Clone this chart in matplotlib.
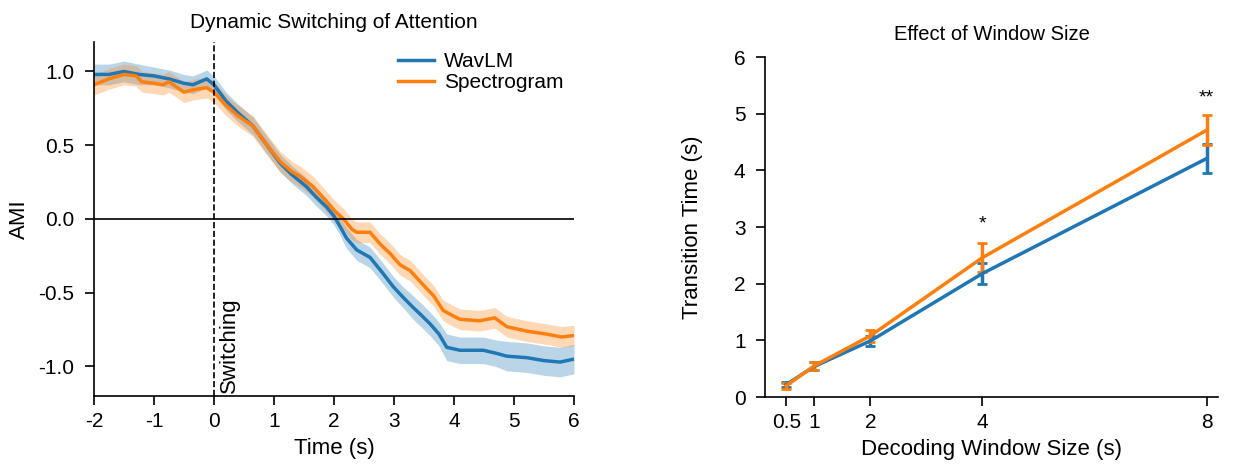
import numpy as np
import matplotlib.pyplot as plt

plt.rcParams['font.family'] = ['Liberation Sans', 'DejaVu Sans']
plt.rcParams['font.size'] = 14.5

# left panel: AMI over time
t_wavlm = [-2.0, -1.75, -1.5, -1.25, -1.0, -0.75, -0.5, -0.35, -0.12, 0.0, 0.2, 0.4, 0.65, 0.85,
           1.1, 1.3, 1.54, 1.7, 1.88, 2.0, 2.1, 2.21, 2.38, 2.6, 2.8, 2.99, 3.15, 3.32, 3.45, 3.6,
           3.75, 3.88, 4.1, 4.3, 4.49, 4.7, 4.88, 5.21, 5.5, 5.77, 6.0]
ami_wavlm = [0.98, 0.98, 1.0, 0.98, 0.97, 0.95, 0.92, 0.91, 0.95, 0.91, 0.80, 0.72, 0.63, 0.52,
             0.38, 0.30, 0.22, 0.15, 0.08, 0.02, -0.05, -0.13, -0.21, -0.26, -0.36, -0.46, -0.53,
             -0.60, -0.65, -0.71, -0.78, -0.87, -0.89, -0.89, -0.89, -0.91, -0.93, -0.94, -0.96,
             -0.97, -0.95]
sem_wavlm = [0.07, 0.07, 0.07, 0.07, 0.06, 0.06, 0.06, 0.06, 0.06, 0.06, 0.06, 0.06, 0.06, 0.06,
             0.06, 0.06, 0.06, 0.06, 0.06, 0.06, 0.06, 0.07, 0.07, 0.07, 0.07, 0.07, 0.07,
             0.08, 0.08, 0.08, 0.08, 0.09, 0.09, 0.09, 0.09, 0.09, 0.10, 0.10, 0.10,
             0.10, 0.10]

t_spec = [-2.0, -1.75, -1.5, -1.3, -1.2, -1.0, -0.85, -0.75, -0.5, -0.3, -0.12, 0.0, 0.2, 0.4,
          0.65, 0.85, 1.1, 1.3, 1.43, 1.65, 1.85, 2.0, 2.16, 2.3, 2.38, 2.6, 2.77, 2.95, 3.1,
          3.27, 3.45, 3.54, 3.66, 3.82, 4.0, 4.1, 4.43, 4.68, 4.88, 5.21, 5.54, 5.79, 6.0]
ami_spec = [0.91, 0.95, 0.98, 0.97, 0.93, 0.92, 0.91, 0.93, 0.86, 0.88, 0.89, 0.86, 0.77, 0.70,
            0.63, 0.52, 0.39, 0.32, 0.29, 0.22, 0.13, 0.06, 0.0, -0.07, -0.09, -0.09, -0.17,
            -0.24, -0.31, -0.35, -0.43, -0.47, -0.52, -0.62, -0.66, -0.68, -0.69, -0.67, -0.73,
            -0.76, -0.78, -0.80, -0.79]
sem_spec = [0.07, 0.07, 0.07, 0.07, 0.07, 0.07, 0.07, 0.07, 0.07, 0.07, 0.07, 0.07, 0.07, 0.07,
            0.07, 0.07, 0.07, 0.07, 0.07, 0.07, 0.07, 0.07, 0.07, 0.07, 0.07, 0.07, 0.07,
            0.07, 0.07, 0.07, 0.07, 0.07, 0.07, 0.07, 0.07, 0.07, 0.07, 0.07, 0.07,
            0.07, 0.07, 0.07, 0.07]

# right panel: transition time vs window size
window = [0.5, 1, 2, 4, 8]
tt_wavlm = [0.22, 0.54, 0.99, 2.18, 4.21]
err_wavlm = [0.05, 0.07, 0.09, 0.18, 0.25]
tt_spec = [0.20, 0.55, 1.08, 2.46, 4.71]
err_spec = [0.05, 0.07, 0.11, 0.25, 0.27]
stars = {4: '*', 8: '**'}
star_y = {4: 2.9, 8: 5.12}

c_blue = '#1f77b4'
c_orange = '#ff7f0e'

fig = plt.figure(figsize=(12.33, 4.65), dpi=100)
ax1 = fig.add_axes([0.0762, 0.1484, 0.3893, 0.7613])
ax2 = fig.add_axes([0.6204, 0.1462, 0.3674, 0.7312])

# ---- left
for t, m, s, c, lab in [(t_wavlm, ami_wavlm, sem_wavlm, c_blue, 'WavLM'),
                        (t_spec, ami_spec, sem_spec, c_orange, 'Spectrogram')]:
    t = np.array(t); m = np.array(m); s = np.array(s)
    ax1.fill_between(t, m - s, m + s, color=c, alpha=0.3, lw=0)
    ax1.plot(t, m, color=c, lw=2.5, label=lab)

ax1.axhline(0, color='black', lw=1.2)
ax1.axvline(0, color='black', lw=1.2, ls='--')
ax1.text(0.08, -1.18, 'Switching', rotation=90, ha='left', va='bottom', fontsize=16)
ax1.set_xlim(-2, 6)
ax1.set_ylim(-1.2, 1.2)
ax1.set_xticks(range(-2, 7))
ax1.set_xticklabels(['-2', '-1', '0', '1', '2', '3', '4', '5', '6'])
ax1.set_yticks([1.0, 0.5, 0.0, -0.5, -1.0])
ax1.set_yticklabels(['1.0', '0.5', '0.0', '-0.5', '-1.0'])
ax1.set_xlabel('Time (s)', labelpad=5, fontsize=16)
ax1.set_ylabel('AMI', labelpad=6, fontsize=16)
ax1.set_title('Dynamic Switching of Attention', fontsize=15, pad=10)
ax1.legend(loc='upper right', frameon=False, handlelength=1.7, handletextpad=0.5,
           borderaxespad=0.1, labelspacing=0.1, fontsize=15)

# ---- right
ax2.errorbar(window, tt_wavlm, yerr=err_wavlm, color=c_blue, lw=2.5, capsize=3.5, capthick=2, elinewidth=2.5)
ax2.errorbar(window, tt_spec, yerr=err_spec, color=c_orange, lw=2.5, capsize=3.5, capthick=2, elinewidth=2.5)
for w, s in stars.items():
    ax2.text(w, star_y[w], s, ha='center', va='bottom', fontsize=14)
ax2.set_xlim(0.12, 8.2)
ax2.set_ylim(0, 6)
ax2.set_xticks(window)
ax2.set_xticklabels(['0.5', '1', '2', '4', '8'])
ax2.set_yticks(range(0, 7))
ax2.set_xlabel('Decoding Window Size (s)', labelpad=5, fontsize=16)
ax2.set_ylabel('Transition Time (s)', labelpad=22, fontsize=16)
ax2.set_title('Effect of Window Size', fontsize=14.5, pad=12)

for ax in (ax1, ax2):
    ax.spines['top'].set_visible(False)
    ax.spines['right'].set_visible(False)
    ax.spines['left'].set_linewidth(1.2)
    ax.spines['bottom'].set_linewidth(1.2)
    ax.tick_params(width=1.2, length=6.5, labelsize=15)
    ax.tick_params(axis='x', pad=5)
    ax.tick_params(axis='y', pad=7.5)

plt.savefig('out.png', dpi=100)
